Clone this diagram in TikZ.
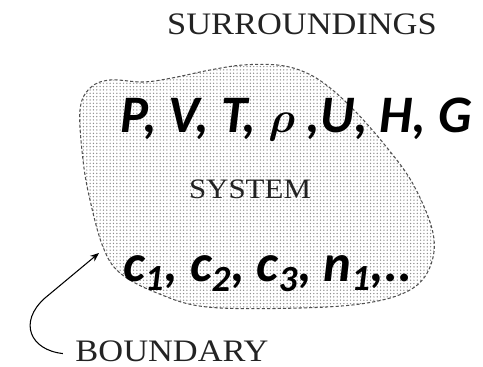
\documentclass[tikz,border=0pt]{standalone}
\usepackage{bm}
\usepackage{fontspec}
\newfontfamily\calib{Carlito}
\newfontfamily\serifwide[FakeStretch=1.1]{Liberation Serif}
\usepackage{tikz}
\usetikzlibrary{arrows.meta,patterns.meta}
\definecolor{grisTexte}{RGB}{35,35,35}
\definecolor{grisBord}{RGB}{80,80,80}
\definecolor{grisPoint}{RGB}{140,140,140}

\begin{document}
\begin{tikzpicture}[x=0.02cm,y=-0.02cm,
  serif/.style={font=\serifwide\fontsize{17.8}{19}\selectfont,text=grisTexte,anchor=base,inner sep=2pt},
  grand/.style={font=\calib\bfseries\itshape\fontsize{30}{32}\selectfont,anchor=base,inner sep=0pt},
  bord/.style={draw=grisBord,line width=0.6pt,dash pattern=on 1.8pt off 1.2pt,
               pattern={Dots[distance=1.9pt,radius=0.42pt]},pattern color=grisPoint},
  arr/.style={-{Stealth[length=5pt,width=4pt]},black,line width=0.6pt}]
  \useasboundingbox (0,0) rectangle (483,367);

  % System region
  \draw[bord] plot[smooth cycle,tension=0.6] coordinates {
    (80,110) (90,88) (110,80) (143,82) (172,78) (210,70) (243,65) (277,65)
    (302,71) (325,84) (352,108) (384,144) (413,184) (433,233) (430,267)
    (410,290) (367,303) (300,308) (207,307) (157,293) (120,273) (103,247)
    (90,200) (83,160)};
  \coordinate (tip) at (99,253);

  \node[serif] (surr) at (302,35) {SURROUNDINGS};
  \node[serif,font=\serifwide\fontsize{16}{18}\selectfont] (sys) at (250,199) {SYSTEM};
  \node[serif] (bnd) at (172,362) {BOUNDARY};

  \node[grand] (props) at (296,133) {P, V, T, $\bm{\rho}$ ,U, H, G};
  \node[grand] (comps) at (268,282)
    {c\textsubscript{1}, c\textsubscript{2}, c\textsubscript{3}, n\textsubscript{1},..};

  \draw[arr] ([xshift=-5pt,yshift=-1pt]bnd.west) .. controls (30,350) and (18,322) .. (45,298) -- (tip);
\end{tikzpicture}
\end{document}
